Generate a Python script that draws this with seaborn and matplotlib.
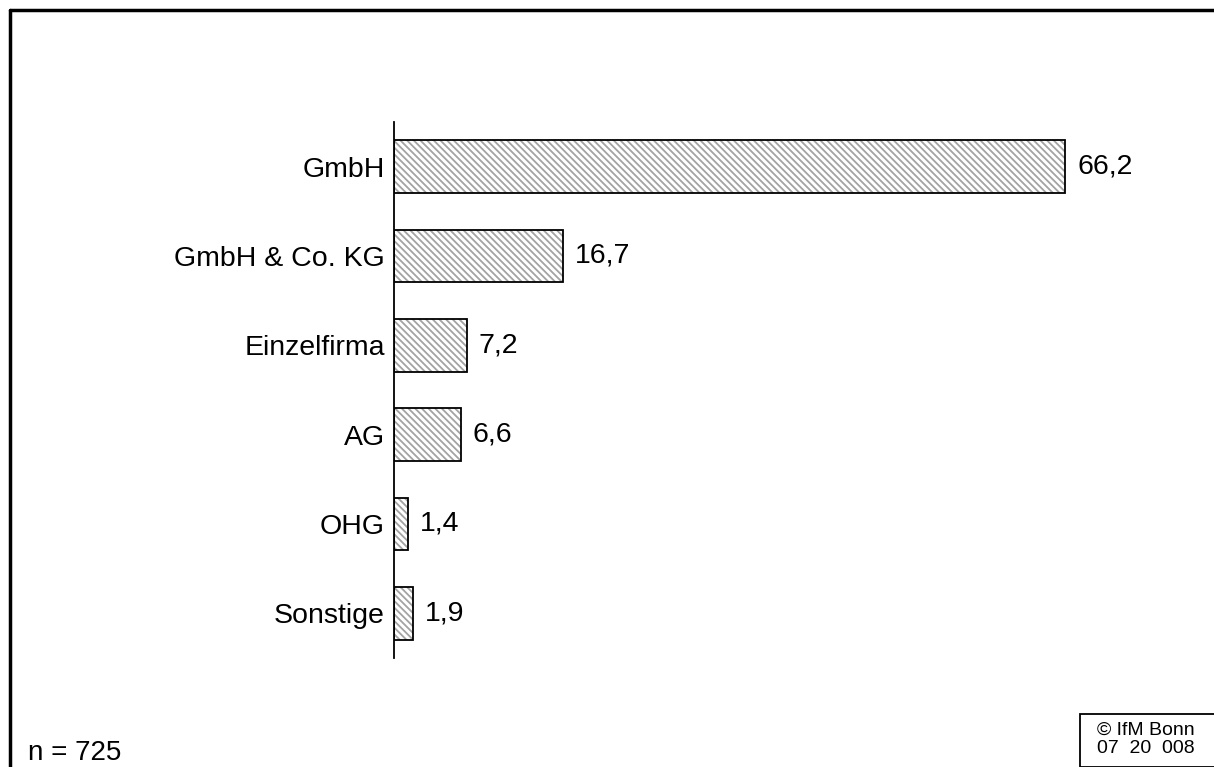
import pandas as pd
import matplotlib
matplotlib.use("Agg")
import matplotlib.pyplot as plt
import seaborn as sns
from matplotlib.patches import Rectangle

# Rechtsform der Unternehmen, Anteile in %
kategorien = ["GmbH", "GmbH & Co. KG", "Einzelfirma", "AG", "OHG", "Sonstige"]
anteile = [66.2, 16.7, 7.2, 6.6, 1.4, 1.9]
wert_labels = ["66,2", "16,7", "7,2", "6,6", "1,4", "1,9"]

sns.set_style("white")
plt.rcParams['font.family'] = ['Liberation Sans', 'DejaVu Sans']
plt.rcParams['hatch.linewidth'] = 1.3
plt.rcParams['text.color'] = 'black'
plt.rcParams['ytick.color'] = 'black'

df = pd.DataFrame({"form": kategorien, "anteil": anteile})

fig = plt.figure(figsize=(12.14, 7.67), dpi=100)
ax = fig.add_axes([394 / 1214, 1 - 658 / 767, (1150 - 394) / 1214, (658 - 122) / 767])

sns.barplot(data=df, y="form", x="anteil", orient="h", ax=ax, width=0.59,
            color="white", edgecolor="#a3a3a3", linewidth=0, hatch="\\" * 5)

# schwarzer Rahmen um die Balken
for p in list(ax.patches):
    ax.add_patch(Rectangle(p.get_xy(), p.get_width(), p.get_height(),
                           fill=False, edgecolor="black", linewidth=1.3, zorder=3))

for i, (v, lab) in enumerate(zip(anteile, wert_labels)):
    ax.annotate(lab, xy=(v, i), xytext=(8.5, 0), textcoords="offset points",
                va="center", ha="left", fontsize=20.5)

ax.set_xlim(0, (1150 - 394) / 10.14)
ax.set_ylim(5.5, -0.5)
ax.set_xlabel("")
ax.set_ylabel("")
ax.set_xticks([])
ax.tick_params(axis="y", length=0, pad=6.5, labelsize=20.5)
for s in ["top", "right", "bottom"]:
    ax.spines[s].set_visible(False)
ax.spines["left"].set_linewidth(1.3)
ax.spines["left"].set_color("black")

# Rahmen der Abbildung (nur links und oben sichtbar)
fig.add_artist(plt.Line2D([10 / 1214, 10 / 1214], [0, 1 - 10 / 767], color="black", lw=2.5,
                          transform=fig.transFigure))
fig.add_artist(plt.Line2D([10 / 1214, 1], [1 - 10 / 767, 1 - 10 / 767], color="black", lw=2.5,
                          transform=fig.transFigure))

fig.text(28 / 1214, 1 - 760 / 767, "n = 725", fontsize=20, ha="left", va="baseline")

fig.text(1097 / 1214, 1 - 722 / 767, "© IfM Bonn\n07  20  008", fontsize=14,
         ha="left", va="top", linespacing=1.05)
fig.add_artist(Rectangle((1080 / 1214, 0), 1, 1 - 714 / 767, fill=False,
                         edgecolor="black", lw=1.3, transform=fig.transFigure))

fig.savefig("out.png", dpi=100)
